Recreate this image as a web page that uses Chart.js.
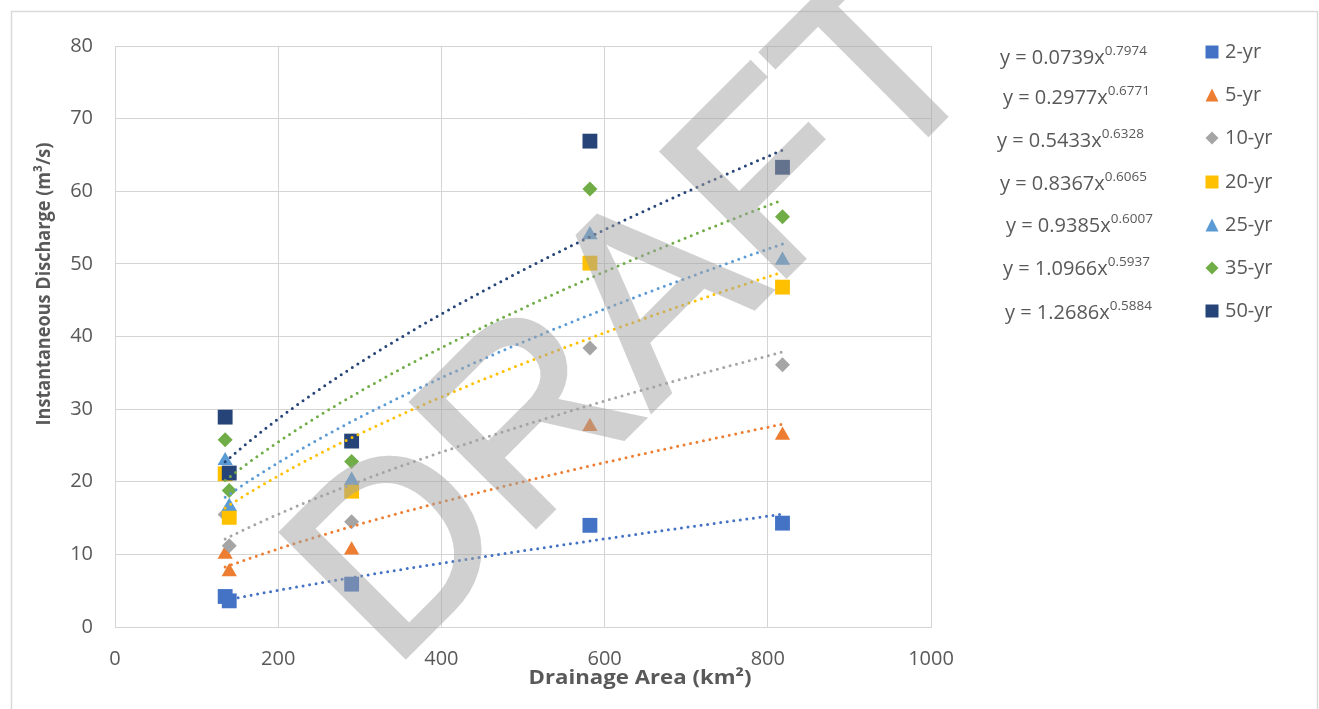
<!DOCTYPE html>
<html>
<head>
<meta charset="utf-8">
<script src="https://cdn.jsdelivr.net/npm/chart.js@4.4.0/dist/chart.umd.min.js"></script>
<style>
  html, body { margin: 0; padding: 0; background: #fff; }
  #wrap { width: 1319px; height: 709px; }
</style>
</head>
<body>
<div id="wrap"><canvas id="canvas" width="1319" height="709"></canvas></div>
<script>
// data
const seriesNames = ['2-yr', '5-yr', '10-yr', '20-yr', '25-yr', '35-yr', '50-yr'];
const areas = [135, 140, 290, 582, 818];
const q2  = [4.2, 3.6, 5.9, 14.0, 14.3];
const q5  = [10.0, 7.6, 10.6, 27.6, 26.4];
const q10 = [15.5, 11.2, 14.5, 38.4, 36.1];
const q20 = [21.1, 15.1, 18.7, 50.1, 46.8];
const q25 = [22.9, 16.6, 20.2, 54.0, 50.5];
const q35 = [25.8, 18.8, 22.8, 60.3, 56.5];
const q50 = [28.9, 21.2, 25.6, 66.9, 63.3];
// power trendlines y = a * x^b as printed beside the legend
const coefA = [0.0739, 0.2977, 0.5433, 0.8367, 0.9385, 1.0966, 1.2686];
const coefB = [0.7974, 0.6771, 0.6328, 0.6065, 0.6007, 0.5937, 0.5884];
const xTicks = [0, 200, 400, 600, 800, 1000];
const yTicks = [0, 10, 20, 30, 40, 50, 60, 70, 80];

const allSeries = [q2, q5, q10, q20, q25, q35, q50];
const colors = ['#4472C4', '#ED7D31', '#A5A5A5', '#FFC000', '#5B9BD5', '#70AD47', '#264478'];
const shapes = ['rect', 'triangle', 'rectRot', 'rect', 'triangle', 'rectRot', 'rect'];
const radius = { rect: 10.5, triangle: 8.8, rectRot: 7.5 };

const datasets = [];
allSeries.forEach(function(vals, i) {
  datasets.push({
    label: seriesNames[i],
    data: areas.map(function(x, j) { return { x: x, y: vals[j] }; }),
    backgroundColor: colors[i],
    borderColor: colors[i],
    borderWidth: 0,
    pointStyle: shapes[i],
    pointRadius: radius[shapes[i]],
    showLine: false,
    order: 10 - i
  });
});
// trendlines drawn from the printed equations, over the x range of the data
const xMin = Math.min.apply(null, areas), xMax = Math.max.apply(null, areas);
coefA.forEach(function(a, i) {
  const pts = [];
  for (let k = 0; k <= 80; k++) {
    const x = xMin + (xMax - xMin) * k / 80;
    pts.push({ x: x, y: a * Math.pow(x, coefB[i]) });
  }
  datasets.push({
    label: seriesNames[i] + ' trend',
    data: pts,
    borderColor: colors[i],
    borderWidth: 3,
    borderDash: [0, 6.6],
    borderCapStyle: 'round',
    pointRadius: 0,
    showLine: true,
    fill: false,
    order: -i
  });
});

// equation label / legend positions (layout only)
const legendRowY = [52, 95, 138, 182, 225, 268, 311];
const eqnX = [1000, 1003, 997, 1000, 1006, 1003, 1005];
const eqnDy = [6, 3, 3, 2, 1, 1, 2];

function drawMarker(ctx, shape, x, y, s, color) {
  ctx.fillStyle = color;
  ctx.beginPath();
  if (shape === 'rect') {
    ctx.rect(x - s / 2, y - s / 2, s, s);
  } else if (shape === 'triangle') {
    ctx.moveTo(x, y - s / 2);
    ctx.lineTo(x + s / 2, y + s / 2);
    ctx.lineTo(x - s / 2, y + s / 2);
    ctx.closePath();
  } else {
    ctx.moveTo(x, y - s / 2);
    ctx.lineTo(x + s / 2, y);
    ctx.lineTo(x, y + s / 2);
    ctx.lineTo(x - s / 2, y);
    ctx.closePath();
  }
  ctx.fill();
}

// text squeezed to a given width (the original uses a narrow font)
function fitText(ctx, text, x, y, width) {
  const w = ctx.measureText(text).width;
  ctx.save();
  ctx.translate(x, y);
  ctx.scale(width / w, 1);
  ctx.fillText(text, 0, 0);
  ctx.restore();
}

const decor = {
  id: 'decor',
  beforeDraw: function(chart) {
    const ctx = chart.ctx;
    ctx.save();
    ctx.fillStyle = '#fff';
    ctx.fillRect(0, 0, chart.width, chart.height);
    ctx.strokeStyle = '#d9d9d9';
    ctx.lineWidth = 1.5;
    ctx.strokeRect(11.5, 11.5, 1306, 720);
    ctx.restore();
  },
  afterDraw: function(chart) {
    const ctx = chart.ctx;
    ctx.save();
    // watermark, drawn opaque off screen then laid over at half strength
    const off = document.createElement('canvas');
    off.width = chart.width;
    off.height = chart.height;
    const oc = off.getContext('2d');
    oc.translate(391, 671);
    oc.rotate(-45 * Math.PI / 180);
    oc.font = '255px "Liberation Sans"';
    oc.fillStyle = '#a3a3a3';
    oc.strokeStyle = '#a3a3a3';
    oc.lineWidth = 5;
    oc.lineJoin = 'miter';
    oc.fillText('DRAFT', 0, 0);
    oc.strokeText('DRAFT', 0, 0);
    ctx.globalAlpha = 0.5;
    ctx.drawImage(off, 0, 0);
    ctx.globalAlpha = 1;

    // axis titles
    ctx.fillStyle = '#595959';
    ctx.font = 'bold 20px "Open Sans"';
    ctx.textAlign = 'center';
    ctx.textBaseline = 'middle';
    fitText(ctx, 'Drainage Area (km²)', 640, 678, 223);
    ctx.save();
    ctx.translate(44, 284);
    ctx.rotate(-Math.PI / 2);
    fitText(ctx, 'Instantaneous Discharge (m³/s)', 0, 0, 283);
    ctx.restore();

    // legend with equations
    ctx.textAlign = 'left';
    ctx.textBaseline = 'middle';
    seriesNames.forEach(function(name, i) {
      const y = legendRowY[i];
      drawMarker(ctx, shapes[i], 1212, y, 13, colors[i]);
      ctx.fillStyle = '#595959';
      ctx.font = '20px "Open Sans"';
      ctx.fillText(name, 1225, y);
      const main = 'y = ' + coefA[i].toFixed(4) + 'x';
      const ey = y + eqnDy[i];
      ctx.fillText(main, eqnX[i], ey);
      const w = ctx.measureText(main).width;
      ctx.font = '13.5px "Open Sans"';
      ctx.fillText(coefB[i].toFixed(4), eqnX[i] + w, ey - 7);
    });
    ctx.restore();
  }
};

const tickFont = { family: 'Open Sans', size: 20 };
new Chart(document.getElementById('canvas').getContext('2d'), {
  type: 'scatter',
  data: { datasets: datasets },
  options: {
    responsive: false,
    animation: false,
    layout: { padding: { left: 0, top: 46, right: 388, bottom: 0 } },
    plugins: { legend: { display: false }, tooltip: { enabled: false } },
    scales: {
      x: {
        type: 'linear', min: 0, max: 1000,
        afterBuildTicks: function(s) { s.ticks = xTicks.map(function(v) { return { value: v }; }); },
        afterFit: function(s) { s.height = 82; },
        ticks: { color: '#595959', font: tickFont, padding: 20, callback: function(v) { return String(v); } },
        grid: { color: '#d4d4d4', lineWidth: 1, drawTicks: false },
        border: { color: '#d4d4d4', width: 1 }
      },
      y: {
        type: 'linear', min: 0, max: 80,
        afterBuildTicks: function(s) { s.ticks = yTicks.map(function(v) { return { value: v }; }); },
        afterFit: function(s) { s.width = 115; },
        ticks: { color: '#595959', font: tickFont, padding: 22 },
        grid: { color: '#d4d4d4', lineWidth: 1, drawTicks: false },
        border: { color: '#d4d4d4', width: 1 }
      }
    }
  },
  plugins: [decor]
});
</script>
</body>
</html>
